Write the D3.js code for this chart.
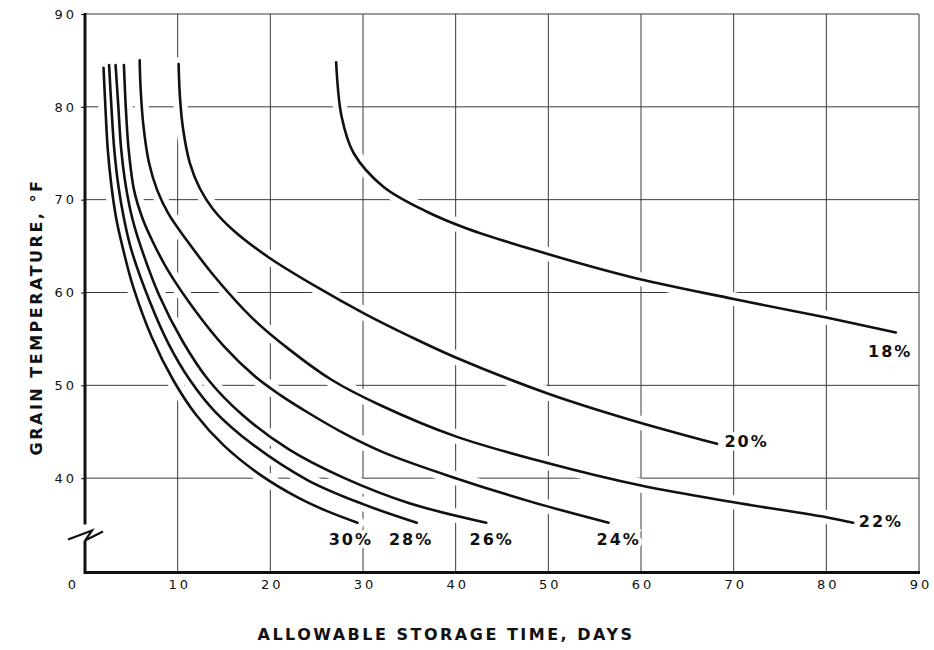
<!DOCTYPE html>
<html>
<head>
<meta charset="utf-8">
<script src="https://cdn.jsdelivr.net/npm/d3@7"></script>
<style>
  body { margin: 0; background: #fff; }
  text { font-family: "DejaVu Sans", sans-serif; fill: #111; }
</style>
</head>
<body>
<svg id="chart" width="934" height="650"></svg>
<script>
// tick values
let xTicks = [0, 10, 20, 30, 40, 50, 60, 70, 80, 90];
let yTicks = [40, 50, 60, 70, 80, 90];

// moisture content labels
let moisture = ['18%', '20%', '22%', '24%', '26%', '28%', '30%'];

// curves: [days, grain temperature °F]
let m18 = [[27.1, 84.8], [27.7, 78.9], [29.0, 75.0], [32.2, 71.4], [36.9, 68.7], [41.2, 66.9],
	   [48.4, 64.6], [58.8, 61.7], [70, 59.3], [80, 57.3], [87.5, 55.7]];
let m20 = [[10.1, 84.6], [10.25, 81], [10.6, 77.5], [11.3, 74], [12.4, 71.2], [13.8, 69], [16, 66.7],
	   [19.8, 63.8], [25, 60.6], [30.2, 57.7], [35, 55.3], [40, 53.0], [50, 49.1], [58.8, 46.3], [68.2, 43.7]];
let m22 = [[5.9, 85], [6.0, 82], [6.3, 78], [6.9, 74], [7.8, 71], [9, 68.5], [11, 65.6], [14, 61.7],
	   [18, 57.3], [22, 53.9], [26.6, 50.6], [32, 47.8], [40, 44.5], [50, 41.6], [60, 39.2], [70, 37.4],
	   [80, 35.8], [82.9, 35.2]];
let m24 = [[4.2, 84.5], [4.4, 80], [4.7, 75.5], [5.3, 71], [6.2, 68], [7.3, 65.5], [9, 62.3], [12, 57.9],
	   [15, 54.2], [18.3, 51.0], [21, 49.0], [24, 47.1], [28, 44.8], [32.4, 42.7], [40, 40.0], [48, 37.5],
	   [56.5, 35.2]];
let m26 = [[3.3, 84.5], [3.6, 80], [3.9, 75.5], [4.4, 71.5], [5.1, 68], [6, 65], [8, 59.7], [10.5, 54.8],
	   [13.3, 50.6], [17, 46.8], [22, 43.1], [28, 40.0], [35, 37.3], [43.3, 35.2]];
let m28 = [[2.6, 84.5], [2.85, 80], [3.15, 75.5], [3.6, 71.5], [4.2, 68], [5, 64.6], [7, 59], [9, 54.5],
	   [11.3, 50.6], [14, 47.2], [18, 43.7], [24, 39.8], [30, 37.2], [35.8, 35.2]];
let m30 = [[2.0, 84.2], [2.2, 80], [2.45, 75.5], [2.85, 71.5], [3.4, 67.8], [4.2, 64.3], [5.2, 60.6],
	   [7.2, 55.2], [9.5, 50.6], [12, 46.8], [15, 43.5], [19, 40.3], [23, 37.9], [26, 36.5], [29.4, 35.2]];

let series = [m18, m20, m22, m24, m26, m28, m30];

// where each label sits (start of text, baseline), in chart units
let labelAt = [[84.5, 53.05], [69.0, 43.4], [83.5, 34.7], [55.2, 32.8], [41.5, 32.8], [32.8, 32.8], [26.3, 32.8]];

let svg = d3.select('#chart');

let x = d3.scaleLinear().domain([0, 90]).range([85, 919]),
    y = d3.scaleLinear().domain([30, 90]).range([571, 14]);

let lineFunc = d3.line()
    .x(function(d) { return x(d[0]); })
    .y(function(d) { return y(d[1]); })
    .curve(d3.curveCatmullRom.alpha(0.5));

// grid
let grid = svg.append('g')
    .attr('stroke', '#3a3a3a')
    .attr('stroke-width', 1)
    .attr('fill', 'none');

grid.selectAll('.vgrid')
    .data(xTicks.slice(1))
    .enter().append('line')
    .attr('x1', (d) => x(d)).attr('x2', (d) => x(d))
    .attr('y1', y(90)).attr('y2', y(30));

grid.selectAll('.hgrid')
    .data(yTicks)
    .enter().append('line')
    .attr('x1', x(0)).attr('x2', x(90))
    .attr('y1', (d) => y(d)).attr('y2', (d) => y(d));

// white halos break the grid where curves cross, like the drafted original
svg.append('g').selectAll('path')
    .data(series)
    .enter().append('path')
    .attr('d', lineFunc)
    .attr('fill', 'none')
    .attr('stroke', '#fff')
    .attr('stroke-width', 14)
    .attr('stroke-linecap', 'round');

svg.append('g').selectAll('path')
    .data(series)
    .enter().append('path')
    .attr('d', lineFunc)
    .attr('fill', 'none')
    .attr('stroke', '#111')
    .attr('stroke-width', 2.6)
    .attr('stroke-linecap', 'round');

// curve labels
svg.append('g').selectAll('text')
    .data(moisture)
    .enter().append('text')
    .attr('x', (d, i) => x(labelAt[i][0]))
    .attr('y', (d, i) => y(labelAt[i][1]))
    .attr('font-size', 16)
    .attr('font-weight', 'bold')
    .attr('letter-spacing', 2)
    .attr('stroke', '#fff')
    .attr('stroke-width', 7)
    .attr('paint-order', 'stroke')
    .text((d) => d);

// bottom axis labels
let xAxis = svg.append('g')
    .attr('transform', 'translate(0,' + y(30) + ')')
    .call(d3.axisBottom(x).tickValues(xTicks).tickSize(0).tickPadding(9));
xAxis.select('.domain').remove();
xAxis.selectAll('text')
    .attr('font-family', 'DejaVu Sans')
    .attr('font-size', 13)
    .attr('letter-spacing', 3)
    .attr('fill', '#111')
    .attr('dx', (d) => d === 0 ? -12 : 1.5);

// left axis labels with small ticks
let yAxis = svg.append('g')
    .attr('transform', 'translate(' + x(0) + ',0)')
    .call(d3.axisLeft(y).tickValues(yTicks).tickSize(4).tickPadding(7));
yAxis.select('.domain').remove();
yAxis.selectAll('line').attr('stroke', '#222').attr('stroke-width', 1.1);
yAxis.selectAll('text')
    .attr('font-family', 'DejaVu Sans')
    .attr('font-size', 13)
    .attr('letter-spacing', 3)
    .attr('fill', '#111')
    .attr('dx', 3);

// heavy axes, left one broken near the bottom
let yBreak = 33.6;
let axes = svg.append('g')
    .attr('stroke', '#111')
    .attr('fill', 'none')
    .attr('stroke-width', 3);

axes.append('line')
    .attr('x1', x(0)).attr('x2', x(0))
    .attr('y1', y(90) - 1).attr('y2', y(yBreak) - 13);
axes.append('path')
    .attr('d', 'M' + x(0) + ',' + (y(yBreak) + 3) + 'V' + (y(30) + 1.5) + 'H' + (x(90) + 1));
axes.append('path')
    .attr('stroke-width', 2.2)
    .attr('stroke-linejoin', 'miter')
    .attr('d', 'M' + (x(0) - 17) + ',' + (y(yBreak) + 2) +
	  'L' + (x(0) + 7) + ',' + (y(yBreak) - 7) +
	  'L' + x(0) + ',' + (y(yBreak) + 3) +
	  'L' + (x(0) + 18) + ',' + (y(yBreak) - 6));

// axis titles
svg.append('text')
    .attr('x', 446)
    .attr('y', 640)
    .attr('text-anchor', 'middle')
    .attr('font-size', 16)
    .attr('font-weight', 'bold')
    .attr('letter-spacing', 2.5)
    .text('ALLOWABLE STORAGE TIME, DAYS');

svg.append('text')
    .attr('transform', 'translate(42,317) rotate(-90)')
    .attr('text-anchor', 'middle')
    .attr('font-size', 16)
    .attr('font-weight', 'bold')
    .attr('letter-spacing', 2.5)
    .text('GRAIN TEMPERATURE, °F');
</script>
</body>
</html>
